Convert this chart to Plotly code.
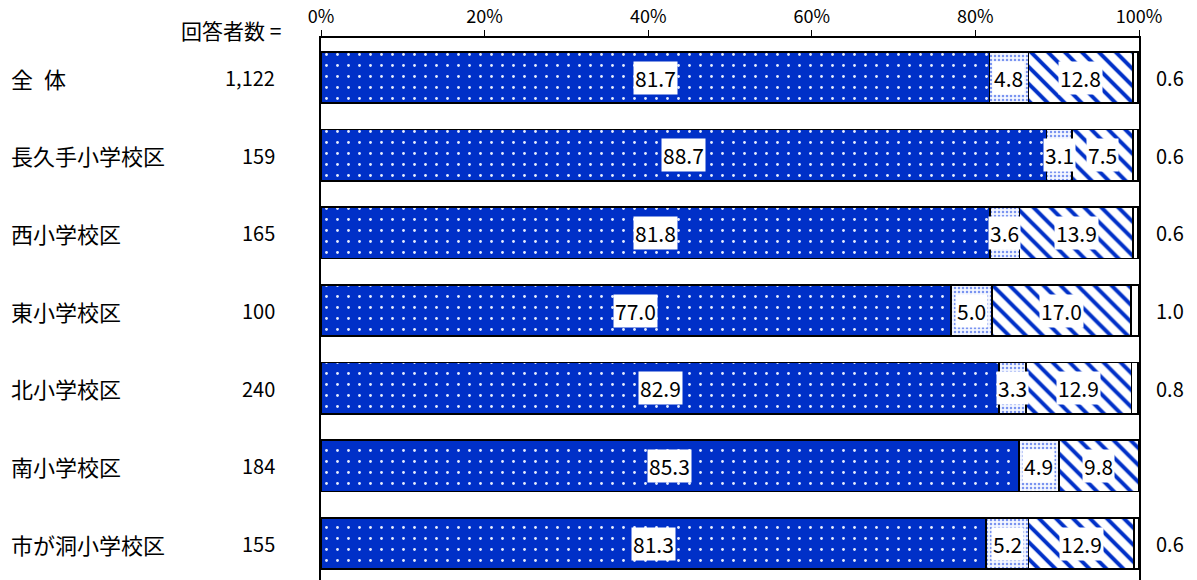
import plotly.graph_objects as go

# 校区別の回答構成比（%）
areas = ["全\u2002体", "長久手小学校区", "西小学校区", "東小学校区", "北小学校区", "南小学校区", "市が洞小学校区"]
respondents = ["1,122", "159", "165", "100", "240", "184", "155"]
seg1 = [81.7, 88.7, 81.8, 77.0, 82.9, 85.3, 81.3]
seg2 = [4.8, 3.1, 3.6, 5.0, 3.3, 4.9, 5.2]
seg3 = [12.8, 7.5, 13.9, 17.0, 12.9, 9.8, 12.9]
seg4 = [0.6, 0.6, 0.6, 1.0, 0.8, 0.0, 0.6]
tick_vals = [0, 20, 40, 60, 80, 100]
tick_text = ["0%", "20%", "40%", "60%", "80%", "100%"]

BLUE = "#0030C8"
FONT = "Noto Sans CJK JP"
ypos = list(range(len(areas)))

patterns = [
    dict(shape=".", bgcolor=BLUE, fgcolor="#E8EEFF", size=11, solidity=0.05, fillmode="replace"),
    dict(shape=".", bgcolor="#F4F7FF", fgcolor="#7A94F0", size=4, solidity=0.3, fillmode="replace"),
    dict(shape="\\", bgcolor="white", fgcolor=BLUE, size=12, solidity=0.33, fillmode="replace"),
    dict(shape="", bgcolor="white", fgcolor="white", fillmode="replace"),
]
series = [seg1, seg2, seg3, seg4]

fig = go.Figure()
for vals, pat in zip(series, patterns):
    fig.add_trace(go.Bar(
        y=ypos, x=vals, orientation="h", width=0.66,
        marker=dict(color="white", pattern=pat, line=dict(color="black", width=1.6)),
        hoverinfo="skip", showlegend=False,
    ))

annotations = []
# 帯の中の数値ラベル（白抜きの箱）
for i in ypos:
    start = 0.0
    for vals in series[:3]:
        v = vals[i]
        annotations.append(dict(
            x=start + v / 2, y=i, xref="x", yref="y", text=f"{v:.1f}",
            xanchor="center", yanchor="middle",
            showarrow=False, bgcolor="white", borderpad=1,
            font=dict(family=FONT, size=21, color="black"),
        ))
        start += v
    # 右外側の数値
    if seg4[i] > 0:
        annotations.append(dict(
            x=1.038, y=i, xref="paper", yref="y", text=f"{seg4[i]:.1f}",
            xanchor="center", yanchor="middle",
            showarrow=False, font=dict(family=FONT, size=20, color="black"),
        ))
    # 左側の校区名と回答者数
    annotations.append(dict(
        x=-0.382, y=i, xref="paper", yref="y", text=areas[i],
        xanchor="left", yanchor="middle",
        showarrow=False, font=dict(family=FONT, size=22, color="black"),
    ))
    annotations.append(dict(
        x=-0.054, y=i, xref="paper", yref="y", text=respondents[i],
        xanchor="right", yanchor="middle",
        showarrow=False, font=dict(family=FONT, size=20, color="black"),
    ))

annotations.append(dict(
    x=-0.046, y=1.0148, xref="paper", yref="paper", text="回答者数 =",
    xanchor="right", yanchor="middle",
    showarrow=False, font=dict(family=FONT, size=21, color="black"),
))

fig.update_layout(
    barmode="stack",
    width=1197, height=580,
    margin=dict(l=321, r=58, t=38, b=0),
    paper_bgcolor="white", plot_bgcolor="white",
    annotations=annotations,
    xaxis=dict(
        side="top", range=[0, 100], tickvals=tick_vals, ticktext=tick_text,
        showgrid=False, zeroline=False, showline=True, linecolor="black", linewidth=1.5,
        ticks="outside", ticklen=6, tickcolor="black", tickwidth=1,
        tickfont=dict(family=FONT, size=18, color="black"),
    ),
    yaxis=dict(
        range=[6.47, -0.51], showticklabels=False, showgrid=False, zeroline=False,
        showline=True, mirror=True, linecolor="black", linewidth=2, ticks="",
    ),
)

fig.write_html("out.html")
